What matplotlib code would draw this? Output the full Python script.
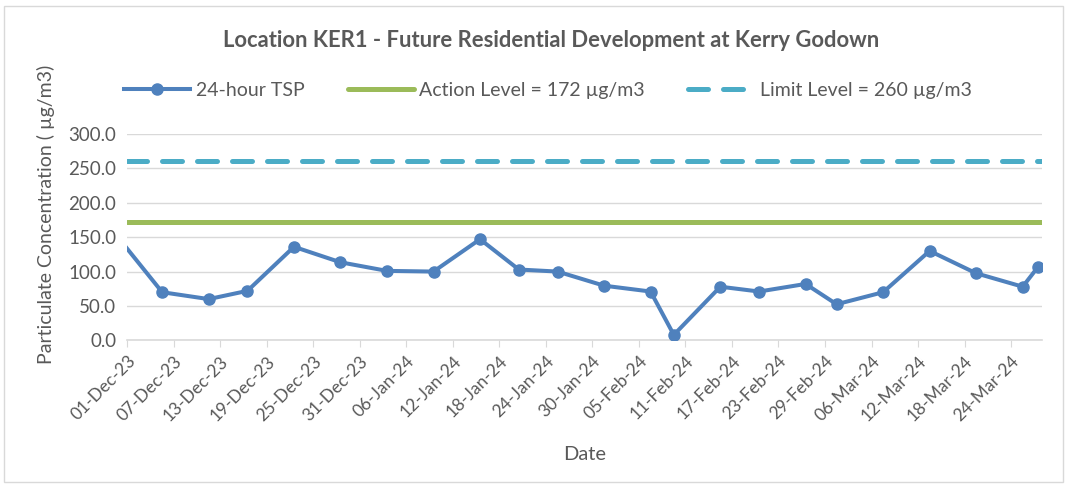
import matplotlib
matplotlib.use("Agg")
import matplotlib.pyplot as plt
import matplotlib.dates as mdates
import pandas as pd

plt.rcParams['font.family'] = ['Lato', 'DejaVu Sans']

# sample dates and 24-hour TSP readings (ug/m3)
dates = ["2023-11-30", "2023-12-05", "2023-12-11", "2023-12-16", "2023-12-22",
         "2023-12-28", "2024-01-03", "2024-01-09", "2024-01-15", "2024-01-20",
         "2024-01-25", "2024-01-31", "2024-02-06", "2024-02-09", "2024-02-15",
         "2024-02-20", "2024-02-26", "2024-03-01", "2024-03-07", "2024-03-13",
         "2024-03-19", "2024-03-25", "2024-03-27"]
tsp = [140, 70, 60, 72, 136, 113.5, 101, 100, 147, 103, 100, 79.5, 71, 8,
       78, 71, 82, 52.5, 70, 130, 97.5, 78, 107]
action_level = 172
limit_level = 260
x_start = "2023-12-01"
x_end = "2024-03-28"
tick_step_days = 6

grey = "#595959"
blue = "#4F81BD"
d = pd.to_datetime(dates) + pd.Timedelta(hours=12)  # Excel centres points in the day
lo, hi = pd.Timestamp(x_start), pd.Timestamp(x_end)
s = pd.Series(tsp, index=d)
inside = s[(s.index >= lo) & (s.index <= hi)]

fig = plt.figure(figsize=(10.68, 4.88), dpi=100)
fig.patches.append(plt.Rectangle((0.004, 0.012), 0.991, 0.976, transform=fig.transFigure,
                                 fill=False, edgecolor="#D9D9D9", lw=1))
ax = fig.add_axes([0.1192, 0.3025, 0.8565, 0.4230])

ax.plot([lo, hi], [limit_level] * 2, color="#4BACC6", lw=3.6, dashes=(4, 3),
        dash_capstyle="round", label="Limit Level = 260 µg/m3", zorder=3)
ax.plot([lo, hi], [action_level] * 2, color="#9BBB59", lw=3.6, solid_capstyle="round",
        label="Action Level = 172 µg/m3", zorder=3)
ax.plot(s.index, s.values, color=blue, lw=2.9, zorder=4)
ax.plot(inside.index, inside.values, ls="none", marker="o", ms=8, color=blue, zorder=5)
# legend proxy for the line+marker series
ax.plot([], [], color=blue, lw=2.9, marker="o", ms=8, label="24-hour TSP")

ax.set_xlim(lo, hi)
ax.set_ylim(0, 300)
ax.set_yticks(range(0, 301, 50))
ax.yaxis.set_major_formatter(matplotlib.ticker.FormatStrFormatter("%.1f"))
ticks = pd.date_range(lo, hi, freq=f"{tick_step_days}D")
ax.set_xticks(ticks)
ax.xaxis.set_major_formatter(mdates.DateFormatter("%d-%b-%y"))
plt.setp(ax.get_xticklabels(), rotation=45, ha="right", rotation_mode="anchor")

ax.grid(axis="y", color="#D9D9D9", lw=1)
ax.set_axisbelow(True)
for sp in ["top", "right", "left"]:
    ax.spines[sp].set_visible(False)
ax.spines["bottom"].set_color("#D9D9D9")
ax.spines["bottom"].set_linewidth(1.2)
ax.tick_params(axis="y", length=0, labelsize=13.5, labelcolor=grey, pad=8)
ax.tick_params(axis="x", length=5, color="#D9D9D9", labelsize=12.5, labelcolor=grey, pad=4)

ax.set_xlabel("Date", fontsize=14.5, color=grey, labelpad=16)
ax.set_ylabel("Particulate Concentration ( µg/m3)", fontsize=14, color=grey)
ax.yaxis.set_label_coords(-0.079, 0.612)
fig.text(0.516, 0.918, "Location KER1 - Future Residential Development at Kerry Godown",
         ha="center", va="center", fontsize=15.8, fontweight="bold", color=grey)

h, l = ax.get_legend_handles_labels()
fig.legend(h[::-1], l[::-1], loc="center", bbox_to_anchor=(0.513, 0.815), ncol=3,
           frameon=False, fontsize=14, labelcolor=grey, handlelength=3.4,
           columnspacing=2.2, handletextpad=0.3)

fig.savefig("out.png", dpi=100)
